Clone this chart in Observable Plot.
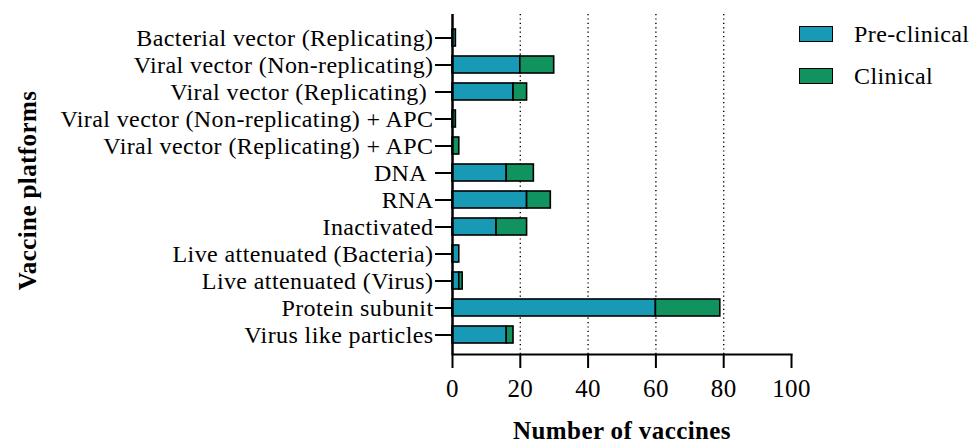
<!DOCTYPE html>
<html>
<head>
<meta charset="utf-8">
<script src="https://cdn.jsdelivr.net/npm/d3@7"></script>
<script src="https://cdn.jsdelivr.net/npm/@observablehq/plot@0.6"></script>
<style>
  html, body { margin: 0; padding: 0; background: #fff; }
  #wrap { position: relative; width: 976px; height: 444px; font-family: "Liberation Serif", serif; }
  #chart svg, #chart svg text { font-family: "Liberation Serif", serif !important; }
  #legend { position: absolute; left: 799px; top: 13px; font-size: 24px; letter-spacing: 0.4px; color: #000; font-family: "Liberation Serif", serif; }
  .item { display: flex; align-items: center; height: 42px; }
  .sw { width: 32px; height: 14px; border: 1.6px solid #000; margin-right: 21px; }
</style>
</head>
<body>
<div id="wrap"><div id="chart"></div><div id="legend"></div></div>
<script>
const categories = [
  "Bacterial vector (Replicating)",
  "Viral vector (Non-replicating)",
  "Viral vector (Replicating)",
  "Viral vector (Non-replicating) + APC",
  "Viral vector (Replicating) + APC",
  "DNA",
  "RNA",
  "Inactivated",
  "Live attenuated (Bacteria)",
  "Live attenuated (Virus)",
  "Protein subunit",
  "Virus like particles"
];
const preClinical = [1, 20, 18, 0, 0, 16, 22, 13, 2, 2, 60, 16];
const clinical    = [0, 10, 4, 1, 2, 8, 7, 9, 0, 1, 19, 2];
const phases = ["Pre-clinical", "Clinical"];
const phaseColors = ["#1899b5", "#10935f"];
const xTicks = [0, 20, 40, 60, 80, 100];
const gridTicks = [20, 40, 60, 80];
const paddedLabels = ["Viral vector (Replicating)", "DNA"];

const table = [];
categories.forEach((c, i) => {
  table.push({platform: c, phase: phases[0], value: preClinical[i]});
  table.push({platform: c, phase: phases[1], value: clinical[i]});
});
const bars = table.filter(d => d.value > 0);

const chart = Plot.plot({
  width: 976,
  height: 444,
  marginLeft: 452,
  marginRight: 185,
  marginTop: 14,
  marginBottom: 90,
  style: {fontFamily: "'Liberation Serif', serif", fontSize: "24px", color: "#000", background: "#fff", letterSpacing: "0.4px"},
  x: {domain: [0, 100]},
  y: {domain: categories, paddingInner: 0.383, paddingOuter: 0.344, align: 0.58},
  color: {domain: phases, range: phaseColors},
  marks: [
    Plot.ruleX(gridTicks, {stroke: "#000", strokeWidth: 1.4, strokeDasharray: "1.2,3.2"}),
    Plot.barX(bars, {x: "value", y: "platform", fill: "phase", stroke: "#000", strokeWidth: 1.6, order: phases}),
    Plot.axisY({tickSize: 17, tickPadding: 2, strokeWidth: 2, label: null, fontSize: 24,
      tickFormat: d => paddedLabels.includes(d) ? d + "\u00a0" : d}),
    Plot.axisX({ticks: xTicks, tickSize: 14, tickPadding: 11, strokeWidth: 2, label: null, fontSize: 25}),
    Plot.frame({anchor: "bottom", strokeWidth: 2, stroke: "#000"}),
    Plot.ruleX([0], {stroke: "#000", strokeWidth: 2.5}),
    Plot.text(["Number of vaccines"], {frameAnchor: "bottom", dy: 84, lineAnchor: "bottom", fontWeight: "bold", fontSize: 25, fill: "#000"}),
    Plot.text(["Vaccine platforms"], {frameAnchor: "left", textAnchor: "middle", dx: -425, dy: 6, rotate: -90, fontWeight: "bold", fontSize: 25, fill: "#000"})
  ]
});
document.getElementById("chart").appendChild(chart);

const legend = document.getElementById("legend");
phases.forEach((p, i) => {
  const item = document.createElement("div");
  item.className = "item";
  const sw = document.createElement("div");
  sw.className = "sw";
  sw.style.background = phaseColors[i];
  const label = document.createElement("span");
  label.textContent = p;
  item.appendChild(sw);
  item.appendChild(label);
  legend.appendChild(item);
});
</script>
</body>
</html>
